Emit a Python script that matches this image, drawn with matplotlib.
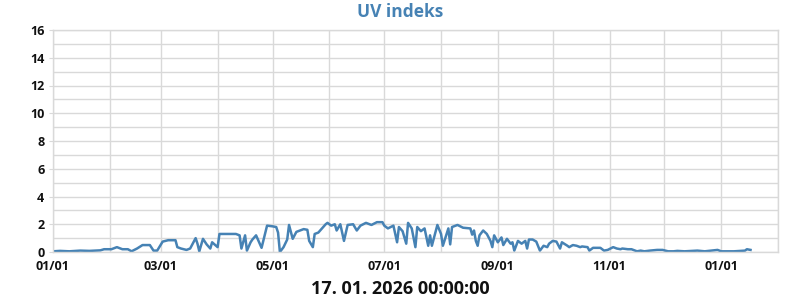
import matplotlib.pyplot as plt
import matplotlib.dates as mdates
import pandas as pd

# UV index (day offset from 2025-01-01, value)
start_date = '2025-01-01'
days = [0, 4, 9, 15, 20, 26, 28, 32, 35, 38, 41, 43, 46, 49, 53, 55, 57, 60, 63, 67,
        68, 70, 73, 75, 78, 79, 80, 82, 84, 86, 87, 90, 91, 96, 100, 102, 103, 105, 106, 108,
        109, 111, 113, 114, 117, 120, 122, 123, 124, 126, 128, 129, 131, 133, 135, 137, 139, 140, 142, 143,
        145, 147, 149, 150, 152, 154, 155, 157, 159, 161, 164, 166, 168, 171, 174, 177, 180, 181, 183, 186,
        188, 189, 191, 193, 194, 196, 198, 199, 201, 203, 205, 206, 207, 210, 212, 213, 216, 217, 218, 221,
        224, 228, 229, 230, 231, 232, 233, 235, 237, 239, 240, 241, 243, 245, 246, 248, 250, 251, 252, 254,
        256, 258, 259, 260, 262, 264, 266, 268, 270, 271, 273, 275, 277, 278, 281, 282, 284, 286, 288, 289,
        292, 293, 295, 299, 301, 303, 306, 308, 310, 311, 314, 316, 319, 321, 323, 326, 330, 333, 336, 339,
        341, 345, 352, 356, 363, 365, 372, 378, 379, 381]
uv = [0.05, 0.08, 0.05, 0.1, 0.08, 0.12, 0.2, 0.2, 0.35, 0.2, 0.2, 0.05, 0.25, 0.5, 0.5, 0.1, 0.1, 0.75, 0.85, 0.85,
      0.35, 0.25, 0.15, 0.25, 1.0, 0.6, 0.05, 0.95, 0.55, 0.25, 0.7, 0.35, 1.3, 1.3, 1.3, 1.2, 0.25, 1.2, 0.1, 0.7,
      0.9, 1.2, 0.6, 0.3, 1.9, 1.85, 1.8, 1.4, 0.0, 0.35, 0.9, 1.95, 0.95, 1.45, 1.55, 1.65, 1.6, 0.8, 0.35, 1.3,
      1.4, 1.7, 2.0, 2.1, 1.9, 2.0, 1.55, 2.0, 0.8, 1.95, 2.0, 1.55, 1.9, 2.1, 1.95, 2.15, 2.15, 1.9, 1.7, 1.9,
      0.7, 1.8, 1.5, 0.6, 2.1, 1.7, 0.35, 1.8, 1.5, 1.7, 0.45, 1.2, 0.45, 1.95, 1.3, 0.45, 1.7, 0.55, 1.8, 1.95,
      1.75, 1.7, 1.25, 1.55, 0.8, 0.45, 1.2, 1.55, 1.3, 0.8, 0.35, 1.2, 0.7, 1.05, 0.5, 0.95, 0.6, 0.7, 0.1, 0.8,
      0.6, 0.8, 0.25, 0.9, 0.9, 0.75, 0.1, 0.45, 0.35, 0.6, 0.8, 0.75, 0.25, 0.7, 0.45, 0.35, 0.5, 0.45, 0.35, 0.4,
      0.35, 0.1, 0.3, 0.3, 0.1, 0.15, 0.35, 0.25, 0.2, 0.25, 0.2, 0.2, 0.05, 0.1, 0.05, 0.1, 0.15, 0.15, 0.05, 0.05,
      0.08, 0.05, 0.1, 0.05, 0.15, 0.05, 0.05, 0.1, 0.2, 0.15]

title = 'UV indeks'
stamp = '17. 01. 2026 00:00:00'

dates = pd.Timestamp(start_date) + pd.to_timedelta(days, unit='D')

plt.rcParams['font.family'] = ['Open Sans', 'DejaVu Sans']

fig = plt.figure(figsize=(8, 3), dpi=100)
ax = fig.add_axes([0.066, 0.16, 0.9065, 0.74])

ax.plot(dates, uv, color='#4682b4', lw=1.8)

ax.set_xlim(pd.Timestamp('2025-01-01'), pd.Timestamp('2026-02-01'))
ax.set_ylim(0, 16)
ax.set_yticks(range(0, 17, 2))
ax.set_yticks(range(0, 17), minor=True)
ax.xaxis.set_major_locator(mdates.MonthLocator(bymonth=[1, 3, 5, 7, 9, 11]))
ax.xaxis.set_minor_locator(mdates.MonthLocator())
ax.xaxis.set_major_formatter(mdates.DateFormatter('%m/%d'))

ax.grid(True, which='both', color='#d9d9d9', lw=1)
ax.set_axisbelow(True)
for s in ax.spines.values():
    s.set_color('#d9d9d9')
    s.set_linewidth(1)

ax.tick_params(axis='y', which='major', length=3, color='#d9d9d9', pad=3)
ax.tick_params(axis='y', which='minor', length=0)
ax.tick_params(axis='x', which='both', length=0, pad=6)
for lbl in ax.get_xticklabels() + ax.get_yticklabels():
    lbl.set_fontweight('bold')
    lbl.set_fontsize(9)
    lbl.set_color('#111111')

fig.text(0.5, 0.96, title, ha='center', va='center', fontsize=12.5, fontweight='bold', color='#4682b4')
fig.text(0.5, 0.035, stamp, ha='center', va='center', fontsize=13, fontweight='bold', color='#111111')

fig.savefig('out.png', dpi=100)
